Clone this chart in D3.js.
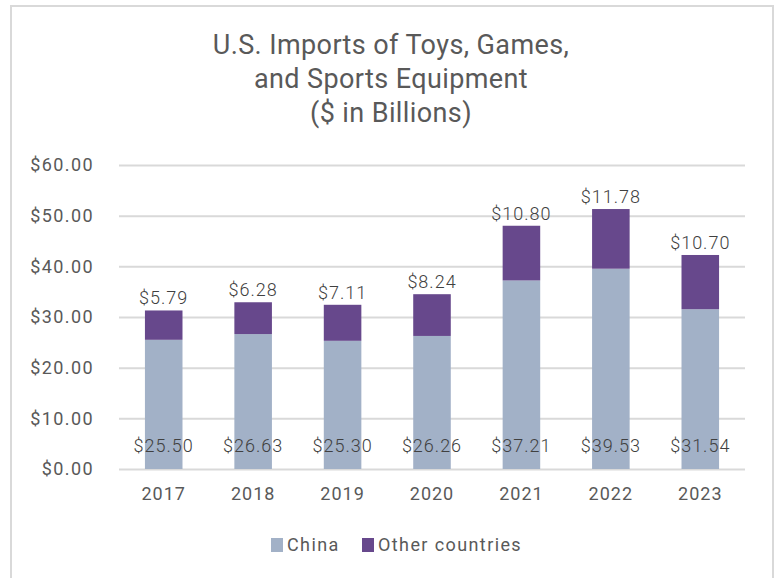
<!DOCTYPE html>
<html>
<head>
<meta charset="utf-8">
<script src="https://cdn.jsdelivr.net/npm/d3@7"></script>
<style>
  html, body { margin: 0; padding: 0; background: #fff; }
  svg { display: block; font-family: "Roboto", "Liberation Sans", sans-serif; }
</style>
</head>
<body>
<svg id="chart" width="778" height="578"></svg>
<script>
// Import values, $ billions
const years = ["2017", "2018", "2019", "2020", "2021", "2022", "2023"];
const china = [25.50, 26.63, 25.30, 26.26, 37.21, 39.53, 31.54];
const otherCountries = [5.79, 6.28, 7.11, 8.24, 10.80, 11.78, 10.70];
const seriesNames = ["China", "Other countries"];
const seriesColors = ["#A2B1C7", "#67488C"];
const yTicks = [0, 10, 20, 30, 40, 50, 60];
const titleLines = ["U.S. Imports of Toys, Games,", "and Sports Equipment", "($ in Billions)"];

const svg = d3.select("#chart");
const W = 778, H = 578;

// Outer frame
svg.append("rect")
  .attr("x", 11).attr("y", 6)
  .attr("width", 762).attr("height", H + 10)
  .attr("fill", "#fff")
  .attr("stroke", "#D9D9D9").attr("stroke-width", 2);

// Title
svg.append("g").selectAll("text")
  .data(titleLines).join("text")
  .attr("x", 391)
  .attr("y", (d, i) => 54 + i * 34)
  .attr("text-anchor", "middle")
  .attr("fill", "#595959")
  .attr("font-size", 27)
  .attr("letter-spacing", 0.4)
  .text(d => d);

const plot = { left: 119, right: 745, top: 165, bottom: 469 };

const x = d3.scaleBand()
  .domain(years)
  .range([plot.left, plot.right])
  .paddingInner(0.58)
  .paddingOuter(0.29);

const y = d3.scaleLinear()
  .domain([0, 60])
  .range([plot.bottom, plot.top]);

// Gridlines
svg.append("g")
  .attr("transform", `translate(${plot.left},0)`)
  .call(d3.axisLeft(y).tickValues(yTicks).tickSize(-(plot.right - plot.left)).tickFormat(""))
  .call(g => g.select(".domain").remove())
  .call(g => g.selectAll("line").attr("stroke", "#D9D9D9").attr("stroke-width", 2));

// Y tick labels
svg.append("g")
  .attr("transform", `translate(94,0)`)
  .call(d3.axisLeft(y).tickValues(yTicks).tickSize(0).tickPadding(0).tickFormat(d => "$" + d3.format(".2f")(d)))
  .call(g => g.select(".domain").remove())
  .call(g => g.selectAll("text")
    .attr("fill", "#595959")
    .attr("font-size", 18)
    .attr("letter-spacing", 1.4)
    .attr("font-family", "Roboto, sans-serif"));

// Stacked bars
const rows = years.map((yr, i) => ({ year: yr, China: china[i], "Other countries": otherCountries[i] }));
const stack = d3.stack().keys(seriesNames)(rows);

svg.append("g").selectAll("g")
  .data(stack).join("g")
  .attr("fill", (d, i) => seriesColors[i])
  .selectAll("rect")
  .data(d => d).join("rect")
  .attr("x", d => x(d.data.year))
  .attr("width", x.bandwidth())
  .attr("y", d => y(d[1]))
  .attr("height", d => y(d[0]) - y(d[1]));

// X axis labels
svg.append("g")
  .attr("transform", `translate(0,${plot.bottom})`)
  .call(d3.axisBottom(x).tickSize(0).tickPadding(18))
  .call(g => g.select(".domain").remove())
  .call(g => g.selectAll("text")
    .attr("fill", "#595959")
    .attr("font-size", 18)
    .attr("letter-spacing", 1)
    .attr("font-family", "Roboto, sans-serif"));

const money = v => "$" + d3.format(".2f")(v);

// China labels at bar base
svg.append("g").selectAll("text")
  .data(rows).join("text")
  .attr("x", d => x(d.year) + x.bandwidth() / 2)
  .attr("y", y(0) - 17)
  .attr("text-anchor", "middle")
  .attr("fill", "#404040")
  .attr("font-size", 18)
  .attr("font-weight", 300)
  .attr("letter-spacing", 1)
  .text(d => money(d.China));

// Other countries labels above the stack
svg.append("g").selectAll("text")
  .data(rows).join("text")
  .attr("x", d => x(d.year) + x.bandwidth() / 2)
  .attr("y", d => y(d.China + d["Other countries"]) - 6)
  .attr("text-anchor", "middle")
  .attr("fill", "#404040")
  .attr("font-size", 18)
  .attr("font-weight", 300)
  .attr("letter-spacing", 1)
  .text(d => money(d["Other countries"]));

// Legend
const legend = svg.append("g").attr("transform", "translate(0,545)");
const legendX = [271, 362];
const items = legend.selectAll("g")
  .data(seriesNames).join("g")
  .attr("transform", (d, i) => `translate(${legendX[i]},0)`);
items.append("rect")
  .attr("x", 0).attr("y", -7)
  .attr("width", 12).attr("height", 14)
  .attr("fill", (d, i) => seriesColors[i]);
items.append("text")
  .attr("x", 16).attr("y", 0)
  .attr("dy", "0.35em")
  .attr("fill", "#595959")
  .attr("font-size", 18)
  .attr("letter-spacing", 1.4)
  .text(d => d);
</script>
</body>
</html>
